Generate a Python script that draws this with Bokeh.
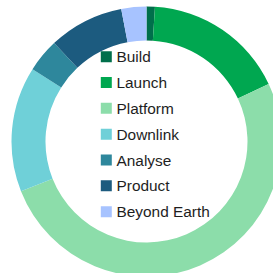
import numpy as np
from bokeh.plotting import figure
from bokeh.models import Range1d, ColumnDataSource
from bokeh.core.properties import value
from bokeh.embed import file_html
from bokeh.resources import INLINE

categories = ["Build", "Launch", "Platform", "Downlink", "Analyse", "Product", "Beyond Earth"]
shares = [1, 17, 51, 15, 4, 9, 3]
colors = ["#006F4B", "#00A750", "#8CDDAA", "#6FD0D8", "#2E879C", "#1C5B7F", "#A7C3FF"]

W = H = 273
p = figure(width=W, height=H, output_backend="svg", toolbar_location=None,
           x_range=Range1d(0, W), y_range=Range1d(0, H), min_border=0)
p.axis.visible = False
p.grid.visible = False
p.outline_line_color = None
p.background_fill_color = "white"
p.border_fill_color = "white"

vals = np.array(shares, dtype=float)
frac = vals / vals.sum()
cum = np.concatenate([[0], np.cumsum(frac)])
start = np.pi / 2 - cum[:-1] * 2 * np.pi
end = np.pi / 2 - cum[1:] * 2 * np.pi

cx, cy = 146, 132
src = ColumnDataSource(dict(start=start, end=end, color=colors, cat=categories))
p.annular_wedge(x=cx, y=cy, inner_radius=101, outer_radius=135,
                start_angle="start", end_angle="end", direction="clock",
                fill_color="color", line_color=None, source=src)

n = len(categories)
ly0, pitch = 216.8, 25.83
ys = [ly0 - i * pitch for i in range(n)]
lsrc = ColumnDataSource(dict(x=[105.8] * n, tx=[116] * n, y=ys, color=colors, cat=categories))
p.scatter(x="x", y="y", marker="square", size=11, fill_color="color", line_color=None, source=lsrc)
p.text(x="tx", y="y", text="cat", text_baseline="middle", text_align="left",
       text_font=value("Liberation Sans"), text_font_size="15.4px", text_color="#1E1E1E", source=lsrc)

open("out.html", "w").write(file_html(p, INLINE))
